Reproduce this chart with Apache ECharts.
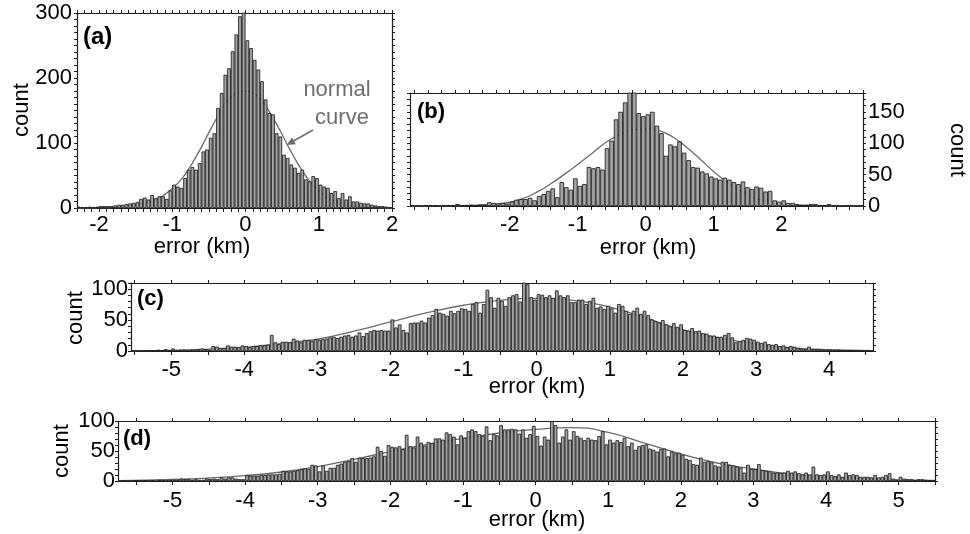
<!DOCTYPE html>
<html><head><meta charset="utf-8">
<script src="https://cdn.jsdelivr.net/npm/echarts@6/dist/echarts.min.js"></script>
<style>html,body{margin:0;padding:0;background:#fff}#c{width:970px;height:534px}</style>
</head><body><div id="c"></div>
<script>
// ---------------- DATA ----------------
// (a) histogram: 0.05 km bins starting at -2.3 km
const binStartA = -2.3, binWidthA = 0.05;
const countsA = [2,1,1,2,1,2,3,3,3,3, 4,5,5,6,7,8,9,14,16,13, 20,15,18,18,14,27,36,33,31,46,
  59,63,59,69,87,90,108,115,154,177, 205,215,241,267,295,305,258,246,228,213,
  195,167,146,144,115,110,82,77,67,62, 54,59,44,41,49,46,36,33,31,23,
  26,15,23,13,18,10,10,8,7,7, 5,4,3,3,2,1];
const curveAx = [-2.3,-2.0,-1.8,-1.6,-1.4,-1.3,-1.2,-1.1,-1.0,-0.9,-0.8,-0.7,-0.6,-0.5,-0.4,-0.3,-0.2,-0.1,0,0.1,0.2,0.3,0.4,0.5,0.6,0.7,0.8,0.9,1.0,1.1,1.2,1.3,1.4,1.6,1.8,2.0];
const curveAy = [0,0.5,1,3,7,10,14,21,30,41,56,74,94,116,137,156,170,178,180,177,168,153,134,113,91,71,53,38,26,17,11,7,4,1.5,0.5,0];

// (b) histogram: 1/15 km bins starting at -52/15 km
const binStartB = -52/15, binWidthB = 1/15;
const countsB = [1,1,0,1,1,1,0,1,1,1,3,1,1,2,1,2,2,6,5,4,5,4,
  7,10,11,11,13,9,16,19,24,28, 14,38,30,26,44,32,35,62,60,62, 58,92,104,138,150,165,185,185,148,143,
  146,150,128,116,80,98,95,103,85,73, 62,61,55,52,47,44,42,45,42,38, 35,39,30,27,31,29,23,24,9,7,
  9,5,5,3,2,2,3,3,1,1, 3,1,1,0,1,1,0,1];
const curveBx = [-3.4667,-3.0,-2.6,-2.4,-2.2,-2.0,-1.8,-1.6,-1.4,-1.2,-1.0,-0.8,-0.6,-0.4,-0.2,0,0.2,0.4,0.6,0.8,1.0,1.2,1.4,1.6,1.8,2.0,2.2,2.4,2.8,3.2];
const curveBy = [0,0.3,1,2,3,6,12,22,35,50,66,83,100,113,121,123,120,110,94,75,55,38,24,13,7,3,1.5,0.8,0.2,0];

// (c) histogram: 0.05 km bins starting at -5.55 km
const binStartC = -5.55, binWidthC = 0.05;
const countsC = [1,1,0,1,1,1,0,2,1,3,1,
  4,1,2,2,1,2,2,3,4,3, 2,8,7,5,5,9,7,7,6,9,
  8,6,8,8,9,9,10,26,14,11, 15,15,14,20,17,14,18,18,16,19,
  18,19,20,22,23,21,23,25,26,23, 25,30,24,29,32,34,33,34,33,33,
  51,38,43,34,30,45,46,46,49,46, 54,58,68,62,60,57,65,61,65,69,
  68,65,76,79,62,76,99,87,70,86, 81,73,87,90,92,80,111,108,87,83,
  92,91,87,90,86,98,90,87,90,79, 79,83,83,76,81,86,70,72,68,73,
  69,62,76,73,65,60,65,70,60,65, 58,51,48,46,50,43,40,45,39,43,
  34,33,37,32,33,29,28,25,25,23, 23,26,29,22,14,16,18,21,20,18,
  15,13,15,11,10,11,8,9,6,8, 7,5,4,3,7,3,3,3,2,2,
  2,1,2,1,1,1,1,0,1,0,1,0];
const curveCx = [-5.55,-5.0,-4.5,-4.0,-3.5,-3.0,-2.5,-2.0,-1.5,-1.0,-0.5,0,0.5,1.0,1.5,2.0,2.5,3.0,3.5,4.0,4.6];
const curveCy = [0.3,1,3,6,12,19,32,47,62,74,82,85,82,71,53,34,21,11,5,2,0.5];

// (d) histogram: 0.05 km bins starting at -5.75 km
const binStartD = -5.75, binWidthD = 0.05;
const countsD = [0,1,0,0,1,1,0,1,0,1,0,2,1,1,2,
  2,2,4,3,3,2,3,2,2,4, 3,4,3,6,4,6,6,4,3,3,
  10,9,9,9,10,10,11,11,11,12, 17,16,16,17,18,20,21,20,27,26,
  16,26,17,22,22,27,29,32,33,38, 32,39,38,38,39,41,57,50,42,60,
  57,56,58,53,77,58,56,74,64,59, 65,63,71,71,69,81,78,74,61,76,
  72,83,86,83,78,75,91,68,78,76, 93,86,86,87,86,79,86,72,78,92,
  75,59,74,69,100,93,64,74,86,69, 83,75,72,68,72,69,68,75,83,61,
  69,64,68,65,72,58,64,52,58,60, 61,54,52,49,53,54,41,49,46,47,
  43,37,35,28,27,39,32,33,31,26, 24,32,32,27,26,24,22,14,27,20,
  20,28,18,17,16,14,14,13,14,17, 14,16,13,11,14,11,24,11,10,11,
  16,10,8,11,7,14,10,11,10,7, 7,7,6,10,6,7,10,13,4,2,
  7,4,3,3,2,3,3,2,1,1];
const curveDx = [-5.75,-5.0,-4.5,-4.0,-3.5,-3.0,-2.5,-2.0,-1.5,-1.0,-0.5,0,0.5,1.0,1.5,2.0,2.5,3.0,3.5,4.0,4.5,5.0,5.5];
const curveDy = [0.7,2.5,5,9,15,24,36,49,61,71,80,86,89,81,63,45,30,20,12,7,4,2,1];

// tick labels
const xLabelsA = [-2,-1,0,1,2];
const xLabelsB = [-2,-1,0,1,2];
const xLabelsC = [-5,-4,-3,-2,-1,0,1,2,3,4];
const xLabelsD = [-5,-4,-3,-2,-1,0,1,2,3,4,5];
const yLabelsA = [0,100,200,300];
const yLabelsB = [0,50,100,150];
const yLabelsC = [0,50,100];
const yLabelsD = [0,50,100];

// ---------------- LAYOUT ----------------
const FONT = '"Liberation Sans", Arial, Helvetica, sans-serif';
const FRAME = '#1e1e1e';
function stepTicks(a, b, s) {
  const out = [];
  for (let k = Math.ceil(a / s - 1e-9); k * s <= b + 1e-9; k++) out.push(+(k * s).toFixed(6));
  return out;
}
function pairs(xs, ys) { return xs.map((x, i) => [x, ys[i]]); }
function binPairs(start, w, counts) {
  return counts.map((c, i) => [+(start + (i + 0.5) * w).toFixed(6), c]);
}

const panels = [
  {grid:{left:77, top:13, width:315, height:195}, xmin:-2.3, xmax:2.0, ymax:300,
   xl:xLabelsA, yl:yLabelsA, xminor:0.1, xm:6, ym:5, yRight:false,
   bars:binPairs(binStartA, binWidthA, countsA), curve:pairs(curveAx, curveAy)},
  {grid:{left:410, top:93, width:453, height:113}, xmin:-52/15, xmax:3.2, ymax:180,
   xl:xLabelsB, yl:yLabelsB, xminor:0.2, xm:8, ym:5, yRight:true,
   bars:binPairs(binStartB, binWidthB, countsB), curve:pairs(curveBx, curveBy)},
  {grid:{left:131, top:283, width:742, height:68}, xmin:-5.55, xmax:4.6, ymax:110,
   xl:xLabelsC, yl:yLabelsC, xminor:0.5, xm:8, ym:3, yRight:false,
   bars:binPairs(binStartC, binWidthC, countsC), curve:pairs(curveCx, curveCy)},
  {grid:{left:118, top:421, width:817, height:60}, xmin:-5.75, xmax:5.5, ymax:100,
   xl:xLabelsD, yl:yLabelsD, xminor:0.5, xm:9, ym:3, yRight:false,
   bars:binPairs(binStartD, binWidthD, countsD), curve:pairs(curveDx, curveDy)}
];

const lineStyle = {color: FRAME, width: 1.2};
const labelStyle = {fontSize: 22, color: '#000', fontFamily: FONT};
const grids = [], xAxes = [], yAxes = [], series = [];
panels.forEach((p, i) => {
  grids.push(Object.assign({containLabel:false}, p.grid));
  const xMinor = stepTicks(p.xmin, p.xmax, p.xminor);
  const yMinor = stepTicks(0, p.ymax, 10);
  xAxes.push({type:'value', gridIndex:i, position:'bottom', min:p.xmin, max:p.xmax,
    axisLine:{show:true, onZero:false, lineStyle},
    axisTick:{show:true, customValues:xMinor, length:4, lineStyle:{color:FRAME, width:1}},
    axisLabel:Object.assign({show:true, customValues:p.xl, margin:p.xm}, labelStyle),
    splitLine:{show:false}});
  xAxes.push({type:'value', gridIndex:i, position:'top', min:p.xmin, max:p.xmax,
    axisLine:{show:true, onZero:false, lineStyle},
    axisTick:{show:true, customValues:xMinor, length:3, lineStyle:{color:FRAME, width:1}},
    axisLabel:{show:false}, splitLine:{show:false}});
  yAxes.push({type:'value', gridIndex:i, position:'left', min:0, max:p.ymax,
    axisLine:{show:true, onZero:false, lineStyle},
    axisTick:{show:true, customValues:yMinor, length:3, lineStyle:{color:FRAME, width:1}},
    axisLabel:Object.assign({show:!p.yRight, customValues:p.yl, margin:p.ym}, labelStyle),
    splitLine:{show:false}});
  yAxes.push({type:'value', gridIndex:i, position:'right', min:0, max:p.ymax,
    axisLine:{show:true, onZero:false, lineStyle},
    axisTick:{show:true, customValues:yMinor, length:3, lineStyle:{color:FRAME, width:1}},
    axisLabel:Object.assign({show:p.yRight, customValues:p.yl, margin:p.ym}, labelStyle),
    splitLine:{show:false}});
  series.push({type:'line', xAxisIndex:2*i, yAxisIndex:2*i, data:p.curve, smooth:0.5,
    symbol:'none', clip:true, z:2, lineStyle:{color:'#6b6b6b', width:1.3}});
  series.push({type:'bar', xAxisIndex:2*i, yAxisIndex:2*i, data:p.bars, barWidth:'100%',
    barCategoryGap:'0%', clip:true, z:3,
    itemStyle:{color:'#a4a4a4', borderColor:'#141414', borderWidth:0.8}});
});

function txt(x, y, text, opt) {
  return Object.assign({type:'text', x, y, silent:true, z:10,
    style:Object.assign({text, fill:'#000', fontSize:22, fontFamily:FONT,
      align:'center', verticalAlign:'middle'}, (opt && opt.style) || {})},
    (opt && opt.rotation !== undefined) ? {rotation:opt.rotation, originX:0, originY:0} : {});
}
const bold = {style:{fontWeight:'bold', align:'left'}};
const graphics = [
  txt(83, 37, '(a)', {style:{fontWeight:'bold', align:'left', fontSize:24}}),
  txt(417, 112, '(b)', bold),
  txt(137, 299, '(c)', bold), txt(123, 439, '(d)', bold),
  txt(22, 110, 'count', {rotation:Math.PI/2}),
  txt(957, 150, 'count', {rotation:-Math.PI/2}),
  txt(76, 318, 'count', {rotation:Math.PI/2}),
  txt(62, 451, 'count', {rotation:Math.PI/2}),
  txt(202, 247, 'error (km)'), txt(648, 248, 'error (km)'),
  txt(537, 387, 'error (km)'), txt(537, 520, 'error (km)'),
  txt(337, 90, 'normal', {style:{fill:'#6e6e6e'}}),
  txt(342, 118, 'curve', {style:{fill:'#6e6e6e'}}),
  {type:'line', silent:true, z:10, shape:{x1:313, y1:130, x2:293, y2:141.2},
   style:{stroke:'#6e6e6e', lineWidth:1.6}},
  {type:'polygon', silent:true, z:10, shape:{points:[[286.5,145],[295.9,144.2],[292.0,137.6]]},
   style:{fill:'#6e6e6e'}}
];

const chart = echarts.init(document.getElementById('c'), null, {renderer:'canvas', width:970, height:534});
chart.setOption({animation:false, backgroundColor:'#fff', grid:grids, xAxis:xAxes, yAxis:yAxes,
  series, graphic:graphics});
</script></body></html>
